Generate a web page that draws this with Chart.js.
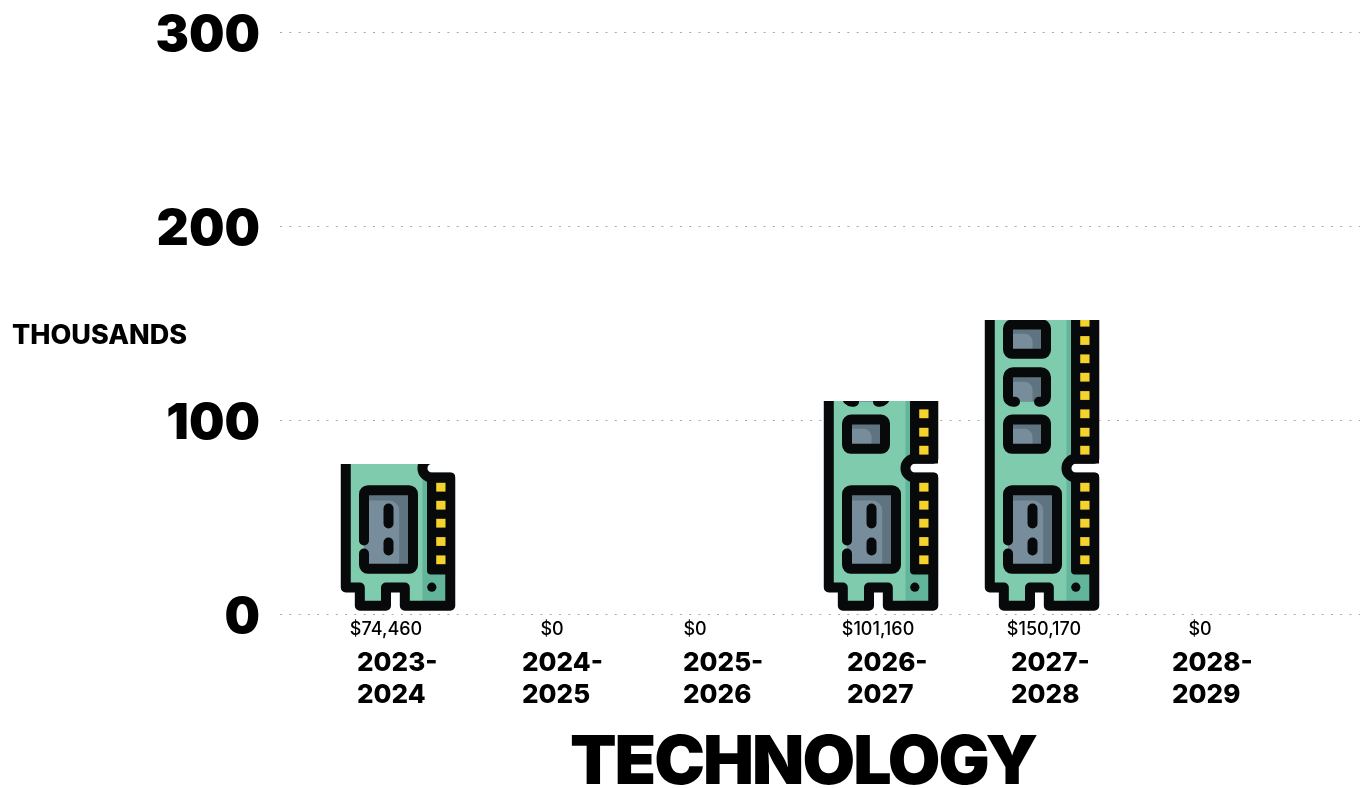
<!DOCTYPE html>
<html>
<head>
<meta charset="utf-8">
<title>Technology</title>
<script src="https://cdn.jsdelivr.net/npm/chart.js@4"></script>
<style>
  html, body { margin: 0; padding: 0; background: #fff; overflow: hidden; }
  canvas { display: block; }
</style>
</head>
<body>
<canvas id="chart" width="1366" height="788"></canvas>
<script>
// --- Datos ---
const categories = ['2023-2024', '2024-2025', '2025-2026', '2026-2027', '2027-2028', '2028-2029'];
const amounts = [74460, 0, 0, 101160, 150170, 0];        // lo que dicen las etiquetas
const drawnHeights = [77.3, 0, 0, 109.8, 151.5, 0];      // altura real de cada icono en el eje (miles)

// --- Ajustes finos de las etiquetas (px respecto al centro de cada barra) ---
const yearNudge = [-41, -37, -37, -34, -31, -31];
const amountNudge = [-12, -7, -25, -3, 2, -3];

const FONT = 'Inter, sans-serif';
const BLACK = '#08090a';
const GREEN = '#7fcbae';
const GREEN_DARK = '#62b49b';
const CHIP_DARK = '#5f7480';
const CHIP_LIGHT = '#778d9b';
const YELLOW = '#f5d32e';
const lowerPins = [50.7, 69, 87.3, 105.3, 123.3];
const upperPins = [160.3, 178.3, 196.7, 215, 233.3, 251.7, 270, 288.3];

function stroke(ctx, pts) {
    ctx.beginPath();
    pts.forEach((p, i) => i ? ctx.lineTo(p[0], p[1]) : ctx.moveTo(p[0], p[1]));
    ctx.stroke();
}

// Chip pequeño, base = borde inferior de la línea central
function smallChip(ctx, base, openBottom) {
    const h = openBottom ? 29.6 : 29.3;
    ctx.fillStyle = CHIP_DARK;
    ctx.fillRect(23, base, 38, h);
    ctx.fillStyle = CHIP_LIGHT;
    ctx.beginPath();
    ctx.roundRect(23, base, 24.5, 20, [0, 0, 8, 0]);
    ctx.fill();
    if (openBottom) {
        ctx.fillStyle = GREEN;
        ctx.fillRect(29, base - 6, 26, 6);
        ctx.beginPath();
        ctx.moveTo(30, base);
        ctx.arcTo(23, base, 23, base + 5, 5);
        ctx.lineTo(23, base + h - 5);
        ctx.arcTo(23, base + h, 28, base + h, 5);
        ctx.lineTo(56, base + h);
        ctx.arcTo(61, base + h, 61, base + h - 5, 5);
        ctx.lineTo(61, base + 5);
        ctx.arcTo(61, base, 56, base, 5);
        ctx.lineTo(54, base);
        ctx.stroke();
    } else {
        ctx.beginPath();
        ctx.roundRect(23, base, 38, h, 4);
        ctx.stroke();
    }
}

// Dibuja el módulo completo en coordenadas locales (u a la derecha, v hacia arriba)
function drawModule(ctx) {
    ctx.lineWidth = 10;
    ctx.lineCap = 'round';
    ctx.lineJoin = 'round';
    ctx.strokeStyle = BLACK;

    const outline = new Path2D();
    outline.moveTo(4.75, 500);
    outline.lineTo(4.75, 23);
    outline.lineTo(18.8, 23);
    outline.lineTo(18.8, 4.75);
    outline.lineTo(45, 4.75);
    outline.lineTo(45, 23);
    outline.lineTo(63.8, 23);
    outline.lineTo(63.8, 4.75);
    outline.lineTo(109.25, 4.75);
    outline.lineTo(109.25, 133);
    outline.lineTo(90.8, 133);
    outline.arc(90.8, 142.35, 9.35, -Math.PI / 2, Math.PI / 2, true);
    outline.lineTo(109.25, 151.7);
    outline.lineTo(109.25, 500);
    outline.closePath();

    ctx.fillStyle = GREEN;
    ctx.fill(outline);

    // Franja verde oscura junto a los contactos
    ctx.save();
    ctx.clip(outline);
    ctx.fillStyle = GREEN_DARK;
    ctx.fillRect(81.5, 0, 30, 133);
    ctx.fillRect(81.5, 152, 30, 350);
    ctx.restore();

    // Chip grande
    ctx.fillStyle = CHIP_DARK;
    ctx.fillRect(23, 41.7, 49, 78.6);
    ctx.fillStyle = CHIP_LIGHT;
    ctx.beginPath();
    ctx.roundRect(23, 41.7, 35.2, 68.3, [0, 0, 10, 0]);
    ctx.fill();
    ctx.beginPath();
    ctx.moveTo(23, 70);
    ctx.lineTo(23, 116);
    ctx.arcTo(23, 120.3, 27, 120.3, 4);
    ctx.lineTo(68, 120.3);
    ctx.arcTo(72, 120.3, 72, 116, 4);
    ctx.lineTo(72, 46);
    ctx.arcTo(72, 41.7, 68, 41.7, 4);
    ctx.lineTo(27, 41.7);
    ctx.arcTo(23, 41.7, 23, 46, 4);
    ctx.lineTo(23, 57);
    ctx.stroke();
    stroke(ctx, [[47.5, 87], [47.5, 102]]);
    stroke(ctx, [[47.5, 60], [47.5, 68]]);

    smallChip(ctx, 161.7, false);
    smallChip(ctx, 208.7, true);
    smallChip(ctx, 256.7, false);

    // Columna de contactos
    ctx.fillStyle = BLACK;
    ctx.beginPath();
    ctx.roundRect(86, 36, 28, 101.7, 4);
    ctx.fill();
    ctx.fillRect(86, 147, 28, 360);
    ctx.stroke(outline);

    ctx.fillStyle = YELLOW;
    lowerPins.concat(upperPins).forEach(v => ctx.fillRect(95.2, v - 4.4, 9.3, 8.8));

    ctx.fillStyle = BLACK;
    ctx.beginPath();
    ctx.arc(90.8, 23.3, 4.6, 0, Math.PI * 2);
    ctx.fill();
}

// --- Iconos recortados a la altura de cada barra ---
const iconBars = {
    id: 'iconBars',
    afterDatasetsDraw(chart) {
        const ctx = chart.ctx;
        chart.getDatasetMeta(0).data.forEach((bar, i) => {
            if (!drawnHeights[i]) return;
            const left = bar.x - bar.width / 2;
            ctx.save();
            ctx.beginPath();
            ctx.rect(left - 2, bar.y, bar.width + 4, bar.base - bar.y);
            ctx.clip();
            ctx.translate(left, bar.base - 3);
            ctx.scale(1, -1);
            drawModule(ctx);
            ctx.restore();
        });
    }
};

// --- Textos fuera de los ejes ---
const textLabels = {
    id: 'textLabels',
    afterDraw(chart) {
        const ctx = chart.ctx;
        const x = chart.scales.x;
        ctx.save();
        ctx.fillStyle = '#000';
        ctx.textBaseline = 'middle';

        ctx.textAlign = 'center';
        ctx.font = '500 18px ' + FONT;
        amounts.forEach((v, i) => {
            ctx.fillText('$' + v.toLocaleString('en-US'), x.getPixelForValue(i) + amountNudge[i], 630);
        });

        ctx.textAlign = 'left';
        ctx.font = '800 26px ' + FONT;
        categories.forEach((c, i) => {
            const [a, b] = c.split('-');
            const px = x.getPixelForValue(i) + yearNudge[i];
            ctx.fillText(a + '-', px, 663);
            ctx.fillText(b, px, 695);
        });

        ctx.font = '800 27px ' + FONT;
        ctx.fillText('THOUSANDS', 12, 336);

        ctx.textAlign = 'center';
        ctx.font = '900 68px ' + FONT;
        ctx.letterSpacing = '-2px';
        ctx.fillText('TECHNOLOGY', 803, 764);
        ctx.restore();
    }
};

new Chart(document.getElementById('chart'), {
    type: 'bar',
    data: {
        datasets: [{
            data: drawnHeights.map((v, i) => ({ x: i, y: v })),
            backgroundColor: 'rgba(0,0,0,0)',
            barThickness: 114
        }]
    },
    options: {
        responsive: false,
        animation: false,
        layout: { padding: { top: 32, right: 6, bottom: 174, left: 0 } },
        plugins: { legend: { display: false }, tooltip: { enabled: false } },
        scales: {
            x: {
                type: 'linear',
                display: false,
                offset: false,
                min: -0.733,
                max: 5.975
            },
            y: {
                min: 0,
                max: 300,
                afterFit(scale) {
                    scale.width = 280;
                    scale.paddingTop = 0;    // sin esto la etiqueta 300 empuja el área hacia abajo
                },
                border: { display: false, dash: [2, 7.3] },
                grid: { color: '#aaaaaa', lineWidth: 1, drawTicks: false },
                ticks: {
                    stepSize: 100,
                    padding: 20,
                    labelOffset: 3.5,
                    color: '#000',
                    font: { family: FONT, size: 50, weight: '900' }
                }
            }
        }
    },
    plugins: [iconBars, textLabels]
});
</script>
</body>
</html>
